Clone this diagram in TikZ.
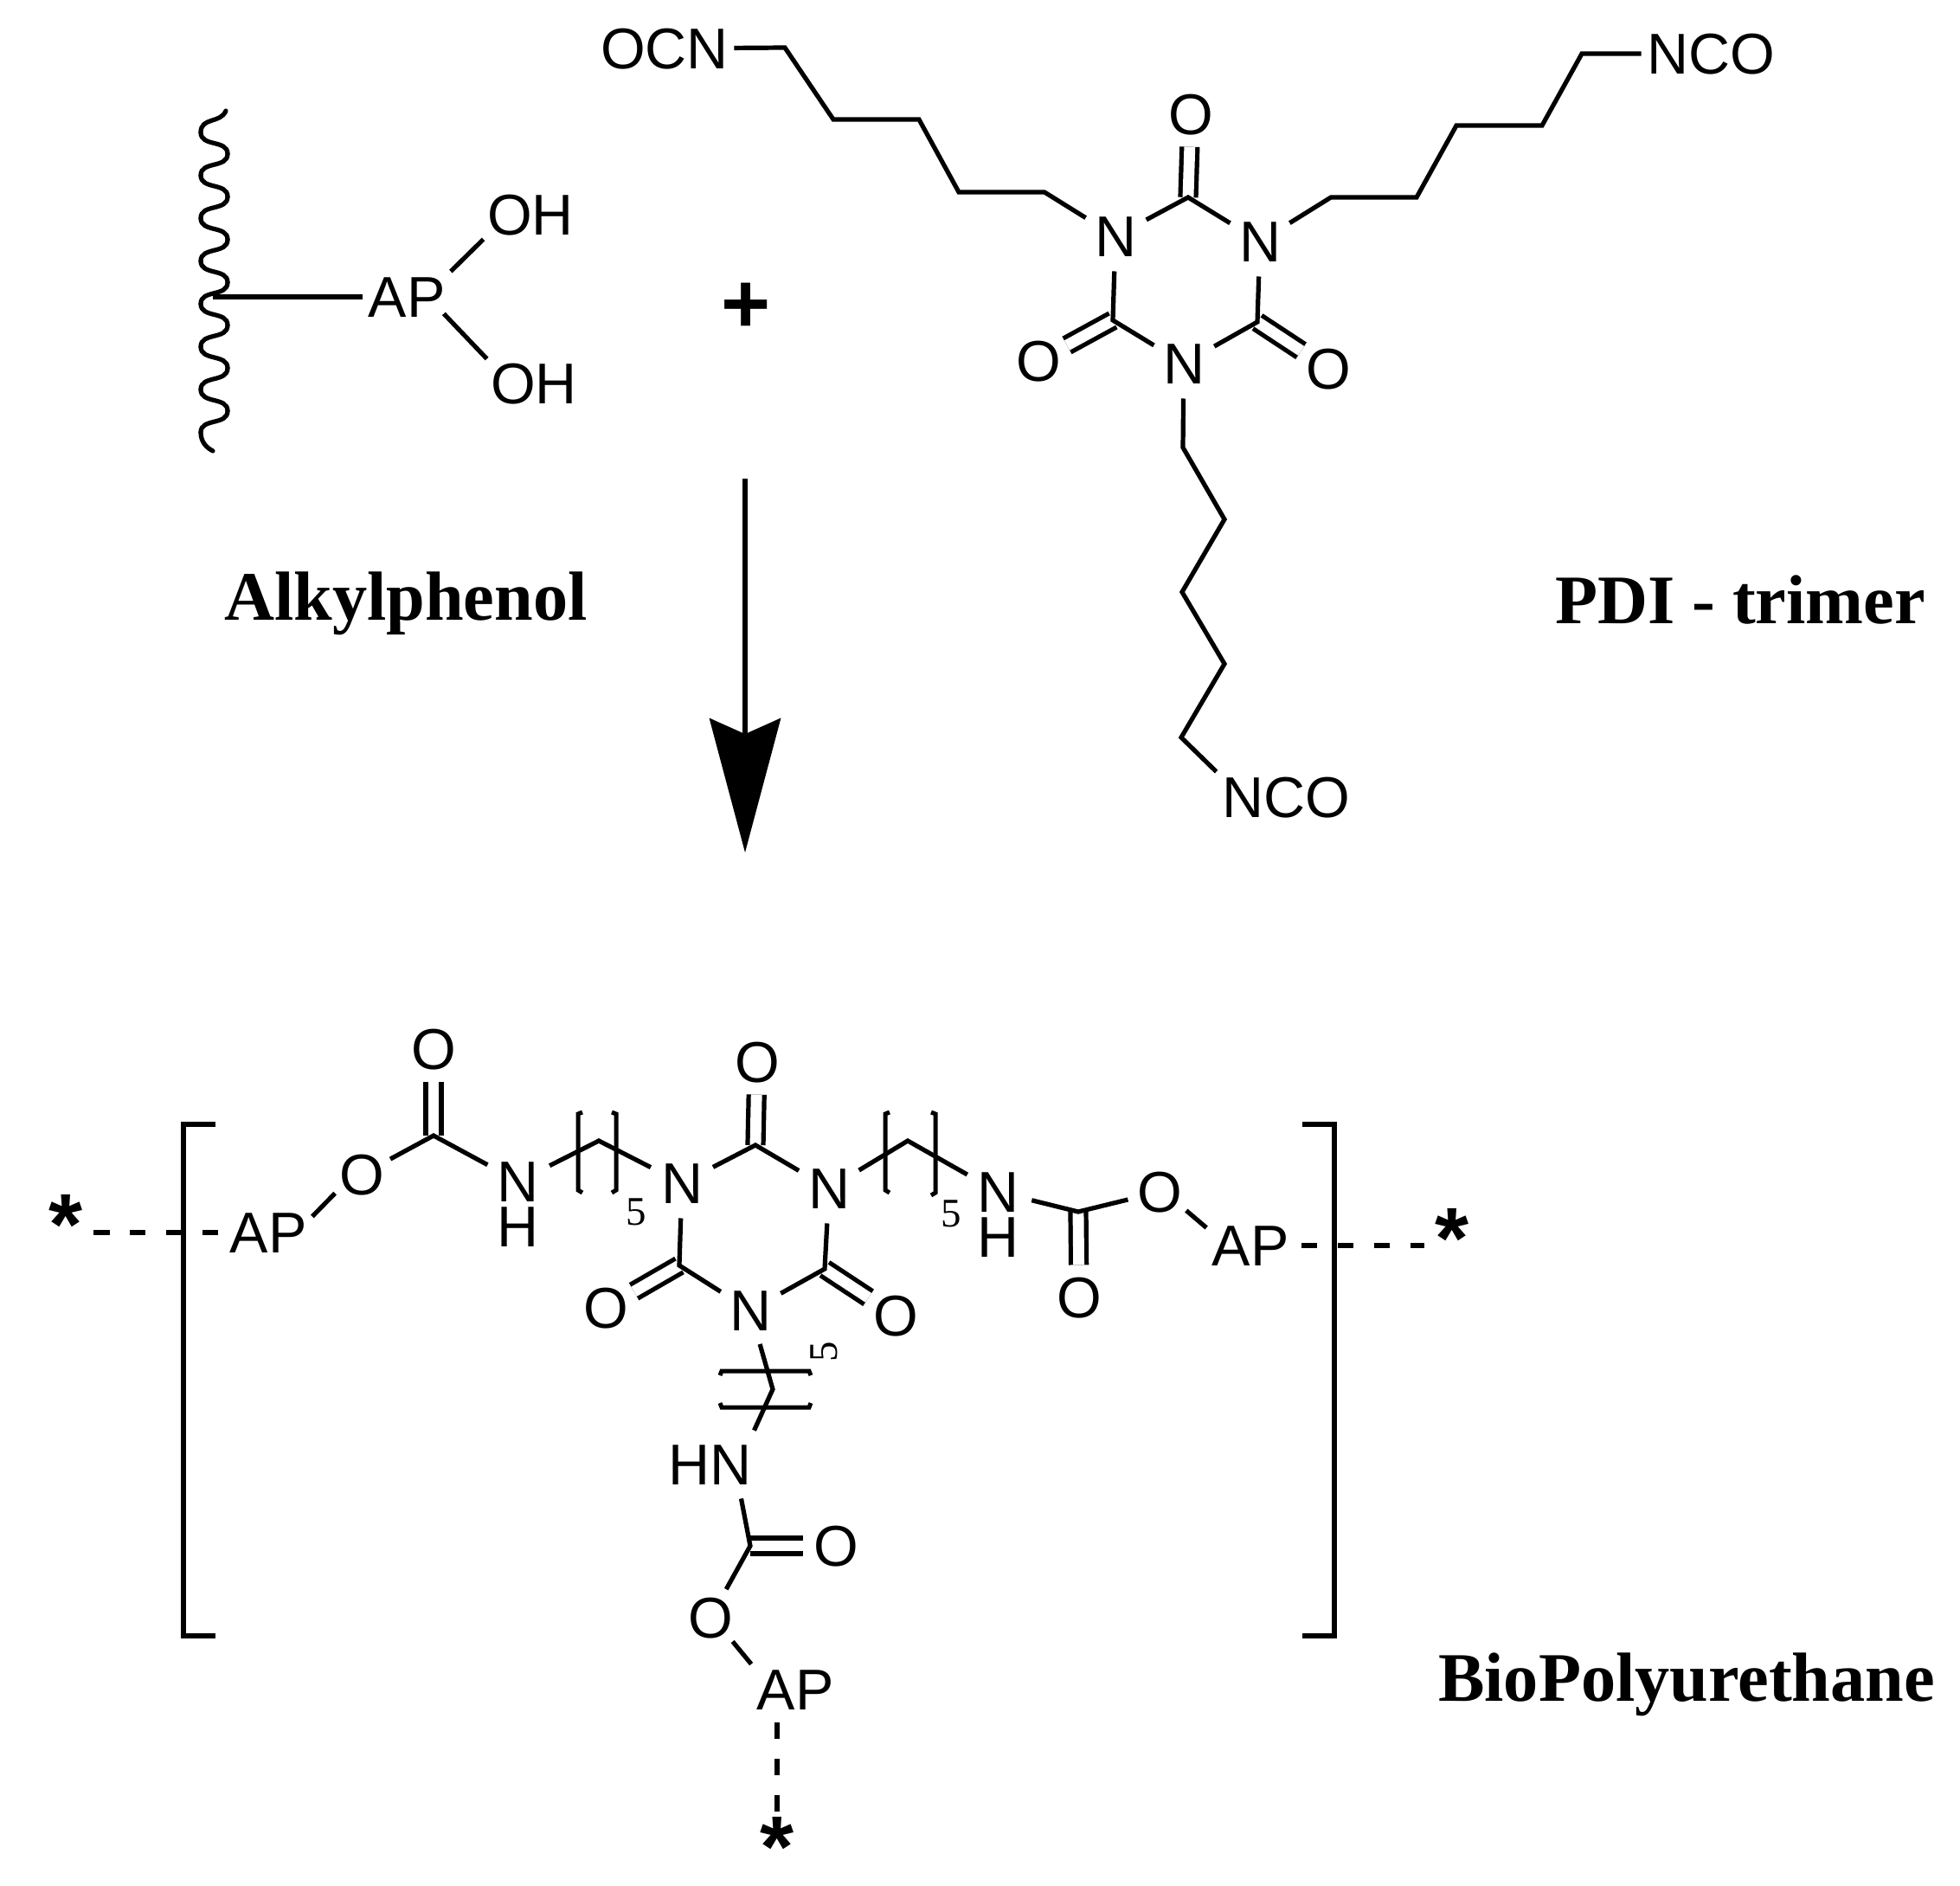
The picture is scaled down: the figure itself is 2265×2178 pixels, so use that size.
\documentclass[tikz,border=0pt]{standalone}
\usepackage{fontspec}
\setmainfont{Liberation Serif}
\setsansfont{Liberation Sans}
\usetikzlibrary{arrows.meta,calc}
\tikzset{
  bond/.style={line width=.073cm,line join=miter,line cap=butt},
  dbl/.style={line width=.073cm,double,double distance=.18cm,line cap=butt},
  wavy/.style={line width=.073cm,line cap=round},
  dashb/.style={line width=.08cm,dash pattern=on .259cm off .329cm},
  brk/.style={line width=.07cm,line join=miter},
  bigbrk/.style={line width=.075cm,line join=miter},
  rarrow/.style={line width=.091cm,-{Stealth[length=2.17cm,width=1.148cm,inset=.252cm]}},
  atomtext/.style={font=\fontsize{26.5}{30}\selectfont\sffamily,text=black,text height=.67cm,text depth=0pt},
  atomn/.style={atomtext,shape=circle,inner sep=0pt,minimum size=1.12cm},
  atomo/.style={atomtext,shape=circle,inner sep=0pt,minimum size=1.04cm},
  lab/.style={atomtext,shape=rectangle,inner xsep=.084cm,inner ysep=.07cm},
  hatom/.style={atomtext,shape=rectangle,inner sep=0pt},
  title/.style={font=\fontsize{32}{36}\selectfont\rmfamily\bfseries,anchor=base,inner sep=0pt},
  starn/.style={font=\fontsize{40}{44}\selectfont\sffamily\bfseries,anchor=base,inner xsep=.168cm,inner ysep=.056cm},
  plusn/.style={font=\fontsize{39}{40}\selectfont\sffamily\bfseries,anchor=base,inner sep=0pt},
  fiven/.style={font=\fontsize{18.7}{20}\selectfont\rmfamily,text height=.448cm,text depth=0pt,inner sep=0pt},
}
\begin{document}
\begin{tikzpicture}[x=.014cm,y=-.014cm]
\useasboundingbox[fill=white] (0,0) rectangle (2265,2178);

% ---- alkylphenol
\draw[wavy] (261,128) .. controls (255,143) and (232,135) .. (232,153);
\foreach \i in {0,...,6}{
  \pgfmathsetmacro\ya{153+49.5*\i}
  \pgfmathsetmacro\yb{\ya+24.75}
  \pgfmathsetmacro\yc{\ya+49.5}
  \draw[wavy] (232,\ya) .. controls (232,\ya+17) and (263,\ya+8) .. (263,\yb);
  \draw[wavy] (263,\yb) .. controls (263,\yb+17) and (232,\yb+8) .. (232,\yc);
}
\draw[wavy] (232,499.5) .. controls (232,510) and (238,517) .. (246,521);
\coordinate (w) at (246,343);
\node[lab] (apA) at (470,343) {AP};
\node[lab,inner xsep=.056cm,inner ysep=.056cm] (ohA) at (613,248) {OH};
\node[lab,inner xsep=.056cm,inner ysep=.056cm] (ohB) at (617,443) {OH};
\draw[bond] (w) -- (apA.west);
\draw[bond] (apA.north east) -- (ohA.south west);
\draw[bond] ($(apA.south east)+(-8,-10)$) -- (ohB.north west);
\node[plusn] (plus) at (862,384) {+};
\node[title] (tA) at (469,716) {Alkylphenol};

% ---- reaction arrow
\coordinate (a1) at (861,553);
\coordinate (a2) at (861,985);
\draw[rarrow] (a1) -- (a2);

% ---- PDI trimer
\node[lab] (ocn) at (768,56) {OCN};
\node[lab] (ncoA) at (1977,62) {NCO};
\node[lab] (ncoB) at (1486,921) {NCO};
\node[atomn] (n1) at (1289,273) {N};
\node[atomn] (n2) at (1456,279) {N};
\node[atomn] (n3) at (1368,420) {N};
\node[atomo] (o1) at (1376,132) {O};
\node[atomo] (o2) at (1200,417) {O};
\node[atomo] (o3) at (1535,426) {O};
\coordinate (c1) at (1373,228);
\coordinate (c2) at (1286,370);
\coordinate (c3) at (1453,372);
\draw[dbl] (c1) -- (o1);
\draw[dbl] (c2) -- (o2);
\draw[dbl] (c3) -- (o3);
\draw[bond] (n1) -- (c1) -- (n2);
\draw[bond] (n1) -- (c2) -- (n3);
\draw[bond] (n2) -- (c3) -- (n3);
\coordinate (l1) at (907,55);
\coordinate (l2) at (963,138);
\coordinate (l3) at (1062,138);
\coordinate (l4) at (1108,222);
\coordinate (l5) at (1207,222);
\draw[bond] (ocn) -- (l1) -- (l2) -- (l3) -- (l4) -- (l5) -- (n1);
\coordinate (r1) at (1538,228);
\coordinate (r2) at (1637,228);
\coordinate (r3) at (1683,145);
\coordinate (r4) at (1782,145);
\coordinate (r5) at (1828,62);
\draw[bond] (n2) -- (r1) -- (r2) -- (r3) -- (r4) -- (r5) -- (ncoA);
\coordinate (b1) at (1367,517);
\coordinate (b2) at (1415,600);
\coordinate (b3) at (1366,684);
\coordinate (b4) at (1415,767);
\coordinate (b5) at (1365,852);
\draw[bond] (n3) -- (b1) -- (b2) -- (b3) -- (b4) -- (b5) -- (ncoB.north west);
\node[title] (tB) at (2011,720) {PDI - trimer};

% ---- polyurethane: brackets
\draw[bigbrk] (249,1299) -- (212,1299) -- (212,1890) -- (249,1890);
\draw[bigbrk] (1505,1299) -- (1542,1299) -- (1542,1890) -- (1505,1890);

% ---- polyurethane: ring
\node[atomn] (pn1) at (788,1367) {N};
\node[atomn] (pn2) at (958,1373) {N};
\node[atomn] (pn3) at (867,1514) {N};
\node[atomo] (po1) at (875,1227) {O};
\node[atomo] (po2) at (700,1511) {O};
\node[atomo] (po3) at (1035,1520) {O};
\coordinate (pc1) at (873,1323);
\coordinate (pc2) at (785,1462);
\coordinate (pc3) at (953,1466);
\draw[dbl] (pc1) -- (po1);
\draw[dbl] (pc2) -- (po2);
\draw[dbl] (pc3) -- (po3);
\draw[bond] (pn1) -- (pc1) -- (pn2);
\draw[bond] (pn1) -- (pc2) -- (pn3);
\draw[bond] (pn2) -- (pc3) -- (pn3);

% ---- left arm
\node[lab] (apL) at (310,1424) {AP};
\node[atomo] (oL) at (418,1357) {O};
\node[atomo] (oLt) at (501,1212) {O};
\coordinate (cL) at (501,1312);
\node[atomn] (nL) at (599,1365) {N};
\node[hatom] (hL) at (599,1417) {H};
\coordinate (kL) at (692,1318);
\draw[dbl] (cL) -- (oLt);
\draw[bond] (apL.20) -- (oL.-145);
\draw[bond] (oL) -- (cL) -- (nL);
\draw[bond] (nL) -- (kL) -- (pn1);
\draw[brk] (673,1285) -- (668,1287) -- (668,1375) -- (673,1378);
\draw[brk] (707,1285) -- (712,1287) -- (712,1375) -- (707,1378);
\node[fiven] (fL) at (735,1399) {5};
\node[starn] (sL) at (76,1449) {*};
\draw[dashb] (sL.east |- apL.west) -- (apL.west);

% ---- right arm
\coordinate (kR) at (1049,1318);
\node[atomn] (nR) at (1153,1377) {N};
\node[hatom] (hR) at (1153,1429) {H};
\coordinate (cR) at (1246,1400);
\node[atomo] (oR) at (1340,1377) {O};
\node[atomo] (oRb) at (1247,1499) {O};
\node[lab] (apR) at (1445,1439) {AP};
\draw[dbl] (cR) -- (oRb);
\draw[bond] (pn2) -- (kR) -- (nR);
\draw[bond] (nR) -- (cR) -- (oR);
\draw[bond] (oR.-35) -- (apR.158);
\draw[brk] (1028,1285) -- (1023,1287) -- (1023,1375) -- (1028,1378);
\draw[brk] (1076,1285) -- (1081,1287) -- (1081,1378) -- (1076,1381);
\node[fiven] (fR) at (1099,1401) {5};
\node[starn] (sR) at (1678,1465) {*};
\draw[dashb,shorten <=.112cm] (apR.east) -- (sR.west |- apR.east);

% ---- lower arm
\coordinate (kB) at (893,1605);
\node[lab,inner xsep=.028cm,inner ysep=.21cm] (hnB) at (821,1692) {HN};
\coordinate (cB) at (867,1786);
\node[atomo] (oBr) at (966,1786) {O};
\node[atomo] (oB) at (821,1869) {O};
\node[lab] (apB) at (919,1952) {AP};
\draw[dbl] (cB) -- (oBr);
\draw[bond] (pn3) -- (kB) -- (hnB.north east);
\draw[bond] (hnB.-48) -- (cB) -- (oB);
\draw[bond] (oB.-47) -- (apB.north west);
\draw[brk] (832,1589) -- (834,1584) -- (935,1584) -- (937,1589);
\draw[brk] (832,1621) -- (834,1626) -- (935,1626) -- (937,1621);
\node[fiven,rotate=90] (fB) at (951,1562) {5};
\node[starn] (sB) at (898,2168) {*};
\draw[dashb,shorten <=.126cm] (sB.north |- apB.south) -- (sB.north);

\node[title] (tC) at (1949,1965) {BioPolyurethane};
\end{tikzpicture}
\end{document}
